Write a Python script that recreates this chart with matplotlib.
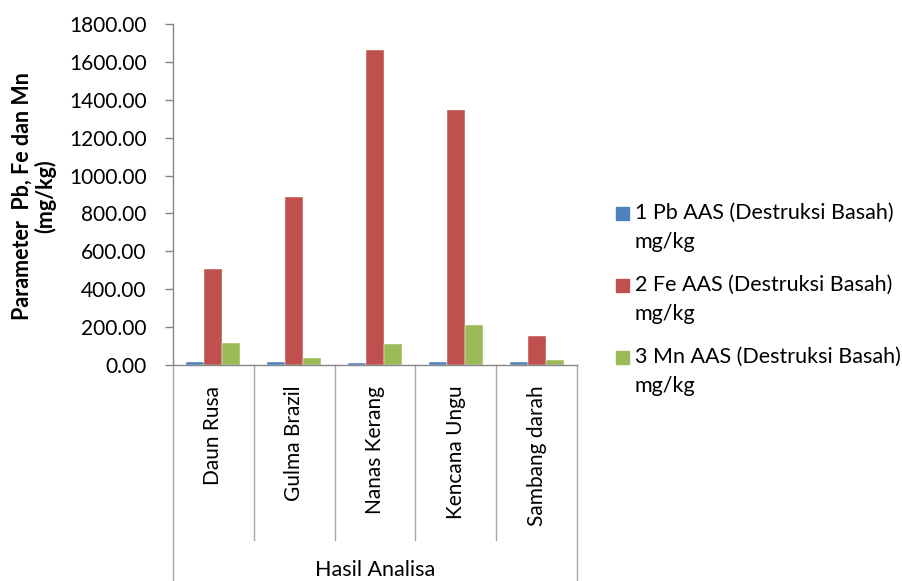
import matplotlib
matplotlib.use("Agg")
import matplotlib.pyplot as plt
from matplotlib.patches import Rectangle

plt.rcParams["font.family"] = ["Lato", "DejaVu Sans"]

categories = ["Daun Rusa", "Gulma Brazil", "Nanas Kerang", "Kencana Ungu", "Sambang darah"]
series_names = [
    "1 Pb AAS (Destruksi Basah)",
    "2 Fe AAS (Destruksi Basah)",
    "3 Mn AAS (Destruksi Basah)",
]
unit = "mg/kg"
pb = [14, 14, 9, 14, 14]
fe = [507, 887, 1663, 1346, 153]
mn = [115, 39, 109, 210, 26]
y_ticks = [0, 200, 400, 600, 800, 1000, 1200, 1400, 1600, 1800]

colors = ["#4F81BD", "#C0504D", "#9BBB59"]
axis_col = "#868686"

fig = plt.figure(figsize=(9.02, 5.81), dpi=100)
ax = fig.add_axes([173 / 902, 1 - 365 / 581, 404 / 902, 341 / 581])

w = 0.222
x = list(range(len(categories)))
for i, vals in enumerate([pb, fe, mn]):
    ax.bar([xi + (i - 1) * w for xi in x], vals, width=w, color=colors[i],
           edgecolor="white", linewidth=0.3, zorder=2)

ax.set_xlim(-0.5, len(categories) - 0.5)
ax.set_ylim(0, 1800)
ax.set_yticks(y_ticks)
ax.set_yticklabels([f"{v:.2f}" for v in y_ticks], fontsize=15)
ax.tick_params(axis="y", length=6, width=1, color=axis_col, pad=13)
ax.set_xticks(x)
ax.set_xticklabels(categories, rotation=90, fontsize=15)
ax.tick_params(axis="x", length=0, pad=15)

for s in ["top", "right"]:
    ax.spines[s].set_visible(False)
for s in ["left", "bottom"]:
    ax.spines[s].set_color(axis_col)
    ax.spines[s].set_linewidth(1)

# category boxes under the axis (excel multi-level axis look)
trans = ax.get_xaxis_transform()
for b in range(1, len(categories)):
    ax.plot([b - 0.5, b - 0.5], [0, -0.513], transform=trans, color="#A6A6A6",
            lw=1, clip_on=False)
for b in [-0.5, len(categories) - 0.5]:
    ax.plot([b, b], [0, -0.7], transform=trans, color="#A6A6A6", lw=1, clip_on=False)

ax.text(0.5, -0.601, "Hasil Analisa", transform=ax.transAxes, ha="center",
        va="center", fontsize=15.5)

fig.text(34 / 902, 1 - 196 / 581, "Parameter  Pb, Fe dan Mn\n(mg/kg)", rotation=90,
         ha="center", va="center", multialignment="center", fontsize=15.5,
         fontweight="bold", linespacing=1.05)

# legend, drawn by hand so the square sits on the first line
for i, name in enumerate(series_names):
    y1 = [213, 285, 357][i]
    fig.patches.append(Rectangle((616 / 902, 1 - (y1 + 7) / 581), 13 / 902, 13 / 581,
                                 transform=fig.transFigure, color=colors[i]))
    fig.text(635 / 902, 1 - y1 / 581, name, ha="left", va="center", fontsize=15.5)
    fig.text(635 / 902, 1 - (y1 + 29) / 581, unit, ha="left", va="center", fontsize=15.5)

fig.savefig("out.png", dpi=100)
